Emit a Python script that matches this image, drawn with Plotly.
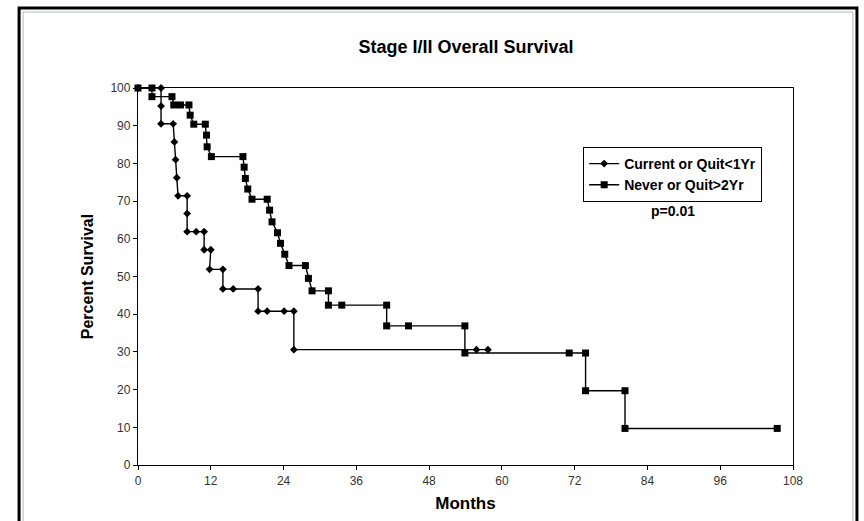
import plotly.graph_objects as go

# Kaplan-Meier style step curves, months vs percent surviving
current_months = [0, 3.8, 3.8, 3.8, 5.8, 6.0, 6.2, 6.4, 6.6, 8.1, 8.1, 8.1, 9.6, 10.9,
                  10.9, 12.0, 11.8, 14.0, 14.0, 15.7, 19.8, 19.8, 21.3, 24.1, 25.7, 25.7,
                  55.8, 57.7]
current_pct = [100, 100, 95.2, 90.5, 90.5, 85.7, 81.0, 76.2, 71.4, 71.4, 66.7, 61.9, 61.9, 61.9,
               57.1, 57.1, 51.9, 51.9, 46.7, 46.7, 46.7, 40.8, 40.8, 40.8, 40.8, 30.6,
               30.6, 30.6]

never_months = [0, 2.3, 2.3, 5.6, 5.9, 7.0, 8.4, 8.6, 9.2, 11.1, 11.3, 11.4, 12.1, 17.3,
                17.5, 17.7, 18.1, 18.8, 21.3, 21.7, 22.1, 23.0, 23.5, 24.2, 24.9, 27.6,
                28.1, 28.7, 31.4, 31.4, 33.6, 41.0, 41.0, 44.6, 53.9, 53.9, 71.1, 73.8,
                73.8, 80.3, 80.3, 105.4]
never_pct = [100, 100, 97.7, 97.7, 95.5, 95.5, 95.5, 92.8, 90.4, 90.4, 87.5, 84.4, 81.8, 81.8,
             79.0, 76.0, 73.2, 70.5, 70.5, 67.6, 64.5, 61.6, 58.8, 55.9, 52.9, 52.9,
             49.5, 46.2, 46.2, 42.4, 42.4, 42.4, 36.9, 36.9, 36.9, 29.7, 29.7, 29.7,
             19.7, 19.7, 9.7, 9.7]

series_names = ["Current or Quit<1Yr", "Never or Quit>2Yr"]
x_ticks = list(range(0, 109, 12))
y_ticks = list(range(0, 101, 10))

W, H = 864, 521
L, R, T, B = 137.5, 71, 88, 56
pw, ph = W - L - R, H - T - B
FONT = "Arial, Liberation Sans, sans-serif"


def px_to_paper(px, py):
    return (px - L) / pw, (H - B - py) / ph


fig = go.Figure()
fig.add_trace(go.Scatter(
    x=current_months, y=current_pct, name=series_names[0],
    mode="lines+markers", cliponaxis=False,
    line=dict(color="black", width=1.4),
    marker=dict(symbol="diamond", size=6, color="black"),
))
fig.add_trace(go.Scatter(
    x=never_months, y=never_pct, name=series_names[1],
    mode="lines+markers", cliponaxis=False,
    line=dict(color="black", width=1.4),
    marker=dict(symbol="square", size=7, color="black"),
))

axis_font = dict(family=FONT, size=12, color="#333")

fig.update_layout(
    width=W, height=H,
    margin=dict(l=L, r=R, t=T, b=B, autoexpand=False),
    paper_bgcolor="white", plot_bgcolor="white",
    showlegend=True,
    title=dict(text="<b>Stage I/II Overall Survival</b>", x=466 / W, xanchor="center",
               y=1 - 47 / H, yanchor="middle",
               font=dict(family=FONT, size=18, color="black")),
    xaxis=dict(range=[0, 108], tickvals=x_ticks, ticktext=[str(v) for v in x_ticks],
               showline=True, mirror=True, linecolor="black", linewidth=1.3,
               ticks="outside", ticklen=4, tickcolor="black", showgrid=False, zeroline=False,
               tickfont=axis_font,
               title=dict(text="<b>Months</b>", font=dict(family=FONT, size=17, color="black"),
                          standoff=10)),
    yaxis=dict(range=[0, 100], tickvals=y_ticks, ticktext=[str(v) for v in y_ticks],
               showline=True, mirror=True, linecolor="black", linewidth=1.3,
               ticks="outside", ticklen=4, tickcolor="black", showgrid=False, zeroline=False,
               tickfont=axis_font,
               title=dict(text="<b>Percent Survival</b>",
                          font=dict(family=FONT, size=16, color="black"), standoff=12)),
    legend=dict(x=px_to_paper(583, 0)[0], y=px_to_paper(0, 147)[1], xanchor="left", yanchor="top",
                bordercolor="black", borderwidth=1, bgcolor="white",
                font=dict(family=FONT, size=14, color="black", weight="bold"),
                itemwidth=30, tracegroupgap=0),
)

fig.add_annotation(text="<b>p=0.01</b>", x=px_to_paper(673, 0)[0], y=px_to_paper(0, 211)[1],
                   xref="paper", yref="paper", xanchor="center", yanchor="middle",
                   showarrow=False,
                   font=dict(family=FONT, size=14, color="black"))

# chart-area frame
x0, y1 = px_to_paper(18.5, 8)
x1, y0 = px_to_paper(857, 530)
fig.add_shape(type="rect", xref="paper", yref="paper", x0=x0, y0=y0, x1=x1, y1=y1,
              line=dict(color="black", width=3))
x0b, y1b = px_to_paper(22.5, 12)
x1b, _ = px_to_paper(853, 530)
fig.add_shape(type="rect", xref="paper", yref="paper", x0=x0b, y0=y0, x1=x1b, y1=y1b,
              line=dict(color="#c9cfe3", width=1.5))

fig.write_html("out.html")
